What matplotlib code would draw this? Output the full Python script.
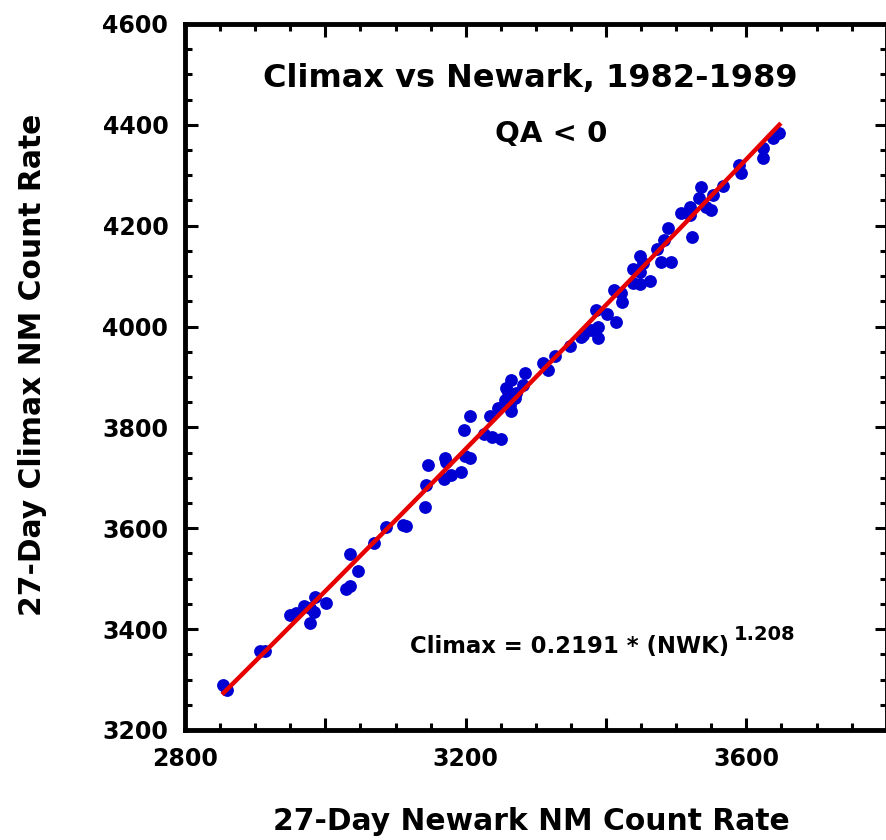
import numpy as np
import matplotlib
matplotlib.use("Agg")
import matplotlib.pyplot as plt
from matplotlib.ticker import MultipleLocator

# 27-day averages, Newark vs Climax neutron monitors
newark = [2854, 2860, 2907, 2914, 2949, 2958, 2969, 2978, 2985, 2978,
          3001, 2984, 3029, 3035, 3035, 3046, 3070, 3086, 3110, 3115,
          3142, 3143, 3147, 3170, 3172, 3169, 3179, 3193, 3199, 3206,
          3197, 3206, 3226, 3237, 3251, 3234, 3264, 3263, 3256, 3271,
          3257, 3281, 3264, 3285, 3310, 3317, 3327, 3349, 3367, 3364,
          3378, 3388, 3388, 3386, 3401, 3414, 3412, 3422, 3423, 3438,
          3449, 3448, 3452, 3438, 3448, 3463, 3472, 3483, 3478, 3492,
          3489, 3523, 3507, 3520, 3520, 3533, 3549, 3542, 3535, 3553,
          3566, 3590, 3593, 3623, 3624, 3638, 3647, 3270, 3260, 3246]
climax = [3289, 3279, 3357, 3357, 3428, 3432, 3446, 3442, 3464, 3412,
          3452, 3434, 3480, 3486, 3549, 3515, 3571, 3603, 3607, 3605,
          3642, 3686, 3725, 3739, 3731, 3698, 3706, 3712, 3743, 3739,
          3795, 3823, 3787, 3781, 3777, 3823, 3833, 3844, 3854, 3868,
          3878, 3884, 3894, 3908, 3928, 3914, 3942, 3961, 3983, 3979,
          3993, 3999, 3977, 4033, 4025, 4009, 4073, 4067, 4049, 4114,
          4108, 4140, 4126, 4086, 4084, 4090, 4154, 4172, 4128, 4128,
          4195, 4178, 4225, 4237, 4221, 4255, 4231, 4237, 4277, 4261,
          4279, 4320, 4305, 4354, 4334, 4374, 4384, 3858, 3870, 3839]

# power-law fit shown on the plot
fit_a = 0.2191
fit_b = 1.208
fit_range = [2855, 3647]

plt.rcParams['font.family'] = ['DejaVu Sans']
plt.rcParams['font.weight'] = 'bold'

fig = plt.figure(figsize=(8.86, 8.40), dpi=100)
ax = fig.add_axes([0.2088, 0.131, 0.792, 0.8405])

ax.scatter(newark, climax, s=85, color='#0000d2', linewidths=0, zorder=2)

xf = np.linspace(fit_range[0], fit_range[1], 200)
ax.plot(xf, fit_a*xf**fit_b, color='#e60000', lw=3.2, zorder=3)

ax.set_xlim(2800, 3800)
ax.set_ylim(3200, 4600)
ax.xaxis.set_major_locator(MultipleLocator(200))
ax.xaxis.set_minor_locator(MultipleLocator(50))
ax.yaxis.set_major_locator(MultipleLocator(200))
ax.yaxis.set_minor_locator(MultipleLocator(50))
ax.set_xticks([2800, 3000, 3200, 3400, 3600, 3800])
ax.set_xticklabels(['2800', '', '3200', '', '3600', ''])

for sp in ax.spines.values():
    sp.set_linewidth(3.5)
ax.tick_params(which='both', direction='in', top=True, right=True,
               labelsize=17, width=2.2)
ax.tick_params(which='major', length=9, pad=12)
ax.tick_params(which='minor', length=5)
for lab in ax.get_xticklabels() + ax.get_yticklabels():
    lab.set_fontweight('bold')

fig.text(0.598, 0.8964, 'Climax vs Newark, 1982-1989', ha='center',
         va='baseline', fontsize=23, fontweight='bold')
fig.text(0.622, 0.831, 'QA < 0', ha='center', va='baseline',
         fontsize=21, fontweight='bold')
fig.text(0.4628, 0.2226, 'Climax = 0.2191 * (NWK)', ha='left',
         va='baseline', fontsize=16.4, fontweight='bold')
fig.text(0.8285, 0.2381, '1.208', ha='left', va='baseline',
         fontsize=14, fontweight='bold')

fig.text(0.600, 0.0119, '27-Day Newark NM Count Rate', ha='center',
         va='baseline', fontsize=21.4, fontweight='bold')
fig.text(0.037, 0.5655, '27-Day Climax NM Count Rate', ha='center',
         va='center', rotation=90, fontsize=21.4, fontweight='bold')

fig.savefig('out.png', dpi=100)
